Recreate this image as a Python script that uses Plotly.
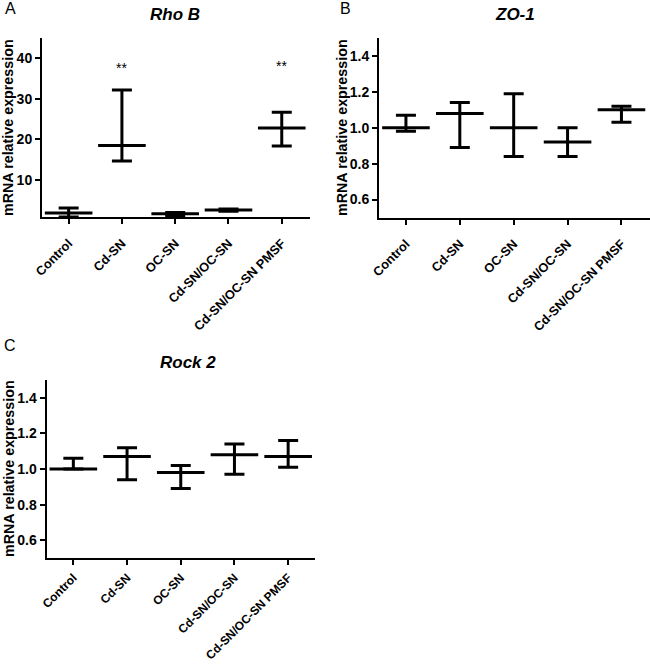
import plotly.graph_objects as go

categories = ["Control", "Cd-SN", "OC-SN", "Cd-SN/OC-SN", "Cd-SN/OC-SN PMSF"]

rhob_mean = [1.9, 18.5, 1.7, 2.6, 22.8]
rhob_upper = [3.1, 32.2, 2.0, 2.9, 26.7]
rhob_lower = [0.9, 14.7, 1.3, 2.3, 18.4]

zo1_mean = [1.00, 1.08, 1.00, 0.92, 1.10]
zo1_upper = [1.07, 1.14, 1.19, 1.00, 1.12]
zo1_lower = [0.98, 0.89, 0.84, 0.84, 1.03]

rock2_mean = [1.00, 1.07, 0.98, 1.08, 1.07]
rock2_upper = [1.06, 1.12, 1.02, 1.14, 1.16]
rock2_lower = [1.00, 0.94, 0.89, 0.97, 1.01]

rhob_stars = ["", "**", "", "", "**"]
rhob_star_y = [None, 37.7, None, None, 38.0]

W, H = 650, 668
FONT = "Arial, Liberation Sans, sans-serif"

def px_x(p):
    return p / W

def px_y(p):
    return 1 - p / H

fig = go.Figure()

panels = [
    ("x", "y", rhob_mean, rhob_upper, rhob_lower),
    ("x2", "y2", zo1_mean, zo1_upper, zo1_lower),
    ("x3", "y3", rock2_mean, rock2_upper, rock2_lower),
]

for xa, ya, m, up, lo in panels:
    fig.add_trace(go.Scatter(
        x=categories, y=m, xaxis=xa, yaxis=ya, mode="markers",
        marker=dict(symbol="line-ew-open", size=34, color="black",
                    line=dict(color="black", width=3)),
        error_y=dict(type="data", symmetric=False,
                     array=[u - v for u, v in zip(up, m)],
                     arrayminus=[v - l for v, l in zip(m, lo)],
                     color="black", thickness=3, width=10),
        showlegend=False, cliponaxis=True, hoverinfo="skip",
    ))

axis_common = dict(showline=True, linecolor="black", linewidth=2,
                   ticks="outside", ticklen=5, tickwidth=2, tickcolor="black",
                   showgrid=False, zeroline=False, mirror=False, automargin=False)
xfont = dict(family=FONT, size=12.8, color="black", weight="bold")
yfont = dict(family=FONT, size=14, color="black", weight="bold")
xextra = dict(tickangle=-45, tickfont=xfont, ticklabelstandoff=7)
xextra_c = dict(tickangle=-45, tickfont=dict(xfont, size=12), ticklabelstandoff=1)

def xdom(a, b):
    return [px_x(a), px_x(b)]

def ydom(top, bottom):
    return [px_y(bottom), px_y(top)]

fig.update_layout(
    width=W, height=H, margin=dict(l=0, r=0, t=0, b=0, autoexpand=False),
    template="none",
    paper_bgcolor="white", plot_bgcolor="white",
    xaxis=dict(domain=xdom(42, 310), anchor="y", range=[-0.5, 4.53],
               **xextra, **axis_common),
    yaxis=dict(domain=ydom(38, 217), anchor="x", range=[0.9, 45],
               tickvals=[10, 20, 30, 40], tickfont=yfont, **axis_common),
    xaxis2=dict(domain=xdom(379, 650), anchor="y2", range=[-0.5, 4.53],
                **xextra, **axis_common),
    yaxis2=dict(domain=ydom(38, 217.5), anchor="x2", range=[0.5, 1.5],
                tickvals=[0.6, 0.8, 1.0, 1.2, 1.4], tickformat=".1f",
                tickfont=yfont, **axis_common),
    xaxis3=dict(domain=xdom(46.5, 315), anchor="y3", range=[-0.5, 4.5],
                **xextra_c, **axis_common),
    yaxis3=dict(domain=ydom(380, 558), anchor="x3", range=[0.5, 1.5],
                tickvals=[0.6, 0.8, 1.0, 1.2, 1.4], tickformat=".1f",
                tickfont=yfont, **axis_common),
)

ann = []
# panel titles
for txt, x, y in [("Rho B", 175, 15), ("ZO-1", 515, 15), ("Rock 2", 188, 362)]:
    ann.append(dict(text=f"<b><i>{txt}</i></b>", x=px_x(x), y=px_y(y),
                    xref="paper", yref="paper", showarrow=False,
                    font=dict(family=FONT, size=17, color="black"),
                    xanchor="center", yanchor="middle"))
# panel letters
for txt, x, y in [("A", 10, 9), ("B", 346, 9), ("C", 10, 345)]:
    ann.append(dict(text=txt, x=px_x(x), y=px_y(y), xref="paper", yref="paper",
                    showarrow=False, font=dict(family=FONT, size=16, color="black"),
                    xanchor="center", yanchor="middle"))
# y-axis titles
for x, y in [(8, 128), (342, 128), (9, 469)]:
    ann.append(dict(text="<b>mRNA relative expression</b>", x=px_x(x), y=px_y(y),
                    xref="paper", yref="paper", showarrow=False, textangle=-90,
                    font=dict(family=FONT, size=14.3, color="black"),
                    xanchor="center", yanchor="middle"))
# significance stars
for c, s, sy in zip(categories, rhob_stars, rhob_star_y):
    if s:
        ann.append(dict(text=s, x=c, y=sy, xref="x", yref="y", showarrow=False,
                        font=dict(family=FONT, size=14, color="black"),
                        xanchor="center", yanchor="middle"))

fig.update_layout(annotations=ann)

fig.write_html("out.html", config={"displayModeBar": False},
               post_script="document.body.style.margin='0';document.body.style.overflow='hidden';")
